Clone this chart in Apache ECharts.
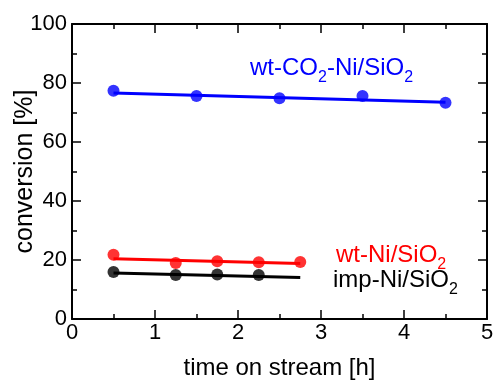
<!DOCTYPE html>
<html><head><meta charset="utf-8">
<script src="https://cdn.jsdelivr.net/npm/echarts@6/dist/echarts.min.js"></script>
<style>html,body{margin:0;padding:0;background:#fff}#c{width:494px;height:380px}</style>
</head><body><div id="c"></div>
<script>
// data
const blueX = [0.5, 1.5, 2.5, 3.5, 4.5];
const blueY = [77.4, 75.6, 74.8, 75.6, 73.3];
const blueFitX = [0.5, 4.5];
const blueFitY = [76.6, 73.5];
const redX = [0.5, 1.25, 1.75, 2.25, 2.75];
const redY = [21.8, 19.0, 19.6, 19.2, 19.3];
const redFitX = [0.5, 2.75];
const redFitY = [20.4, 18.8];
const blackX = [0.5, 1.25, 1.75, 2.25];
const blackY = [15.9, 14.9, 15.1, 14.9];
const blackFitX = [0.5, 2.75];
const blackFitY = [15.6, 14.1];
const xTicks = [0, 1, 2, 3, 4, 5];
const yTicks = [0, 20, 40, 60, 80, 100];

const zip = (a, b) => a.map((v, i) => [v, b[i]]);
const FONT = 'Liberation Sans, Arial, sans-serif';
const chart = echarts.init(document.getElementById('c'));

const common = (extra) => Object.assign({
  axisLine: {show: true, onZero: false, lineStyle: {color: '#000', width: 2}},
  axisTick: {show: true, inside: true, length: 9, lineStyle: {color: '#000', width: 1.5}},
  minorTick: {show: true, splitNumber: 2, length: 5, lineStyle: {color: '#000', width: 1.5}},
  splitLine: {show: false}}, extra);

function scat(x, y, color) {
  return {type: 'scatter', xAxisIndex: 0, yAxisIndex: 0, data: zip(x, y), symbolSize: 12, itemStyle: {color: color}, z: 3};
}
function fit(x, y, color) {
  return {type: 'line', xAxisIndex: 0, yAxisIndex: 0, data: zip(x, y), symbol: 'none', lineStyle: {color: color, width: 3}, z: 2};
}
function label(parts, color, left, top) {
  return {type: 'text', left: left, top: top, style: {
    text: parts, fill: color,
    rich: {m: {fontFamily: FONT, fontSize: 24, fill: color, lineHeight: 28, verticalAlign: 'bottom'},
           s: {fontFamily: FONT, fontSize: 16, fill: color, verticalAlign: 'bottom', padding: [0, 0, -6, 0]}}}};
}

const gridBox = {left: 72, right: 7, top: 24, bottom: 61, outerBoundsMode: 'none', containLabel: false};

chart.setOption({
  animation: false,
  grid: [Object.assign({}, gridBox), Object.assign({}, gridBox)],
  xAxis: [
    common({gridIndex: 0, type: 'value', min: 0, max: 5, interval: 1, position: 'bottom',
      name: 'time on stream [h]', nameLocation: 'middle', nameGap: 37, nameMoveOverlap: false,
      nameTextStyle: {fontFamily: FONT, fontSize: 24, color: '#000'},
      axisLabel: {fontFamily: FONT, fontSize: 22, color: '#000', margin: 3,
        formatter: v => xTicks.includes(v) ? String(v) : ''}}),
    common({gridIndex: 1, type: 'value', min: 0, max: 5, interval: 1, position: 'top', axisLabel: {show: false}})
  ],
  yAxis: [
    common({gridIndex: 0, type: 'value', min: 0, max: 100, interval: 20, position: 'left',
      name: 'conversion [%]', nameLocation: 'middle', nameGap: 34, nameRotate: 90, nameMoveOverlap: false,
      nameTextStyle: {fontFamily: FONT, fontSize: 25, color: '#000'},
      axisLabel: {fontFamily: FONT, fontSize: 22, color: '#000', margin: 5,
        formatter: v => yTicks.includes(v) ? String(v) : ''}}),
    common({gridIndex: 1, type: 'value', min: 0, max: 100, interval: 20, position: 'right', axisLabel: {show: false}})
  ],
  series: [
    fit(blueFitX, blueFitY, '#0000ff'), scat(blueX, blueY, '#0000ff'),
    fit(redFitX, redFitY, '#ff0000'), scat(redX, redY, '#ff0000'),
    fit(blackFitX, blackFitY, '#000000'), scat(blackX, blackY, '#000000')
  ],
  graphic: [
    label('{m|wt-CO}{s|2}{m|-Ni/SiO}{s|2}', '#0000ff', 250, 56),
    label('{m|wt-Ni/SiO}{s|2}', '#ff0000', 336, 243),
    label('{m|imp-Ni/SiO}{s|2}', '#000000', 333, 268)
  ]
});
</script></body></html>
